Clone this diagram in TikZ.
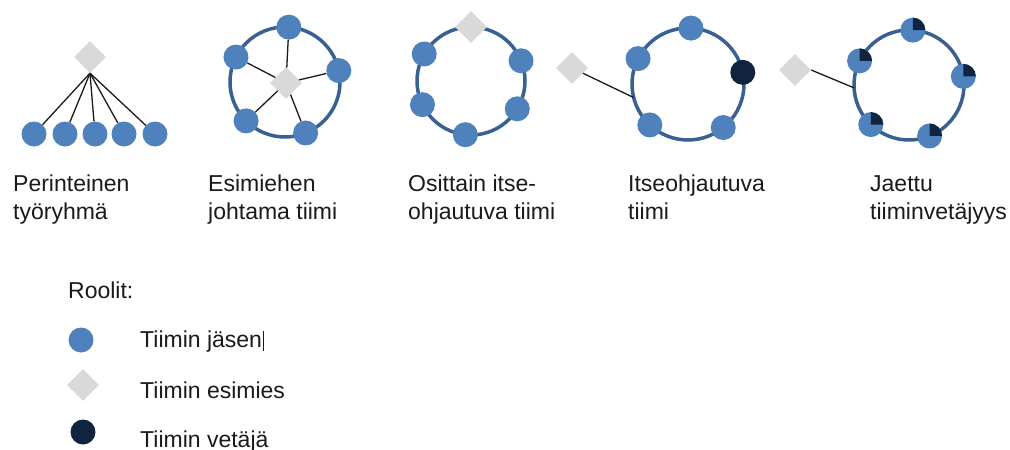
\documentclass[tikz,border=0pt]{standalone}
\usepackage{fontspec}
\setmainfont{Liberation Sans}
\usetikzlibrary{shapes.geometric,calc}
\definecolor{memberblue}{HTML}{4F81BD}
\definecolor{ringblue}{HTML}{3A6091}
\definecolor{leadnavy}{HTML}{10243F}
\definecolor{bossgray}{HTML}{D9D9D9}
\definecolor{ink}{HTML}{1A1A1A}
\begin{document}
\begin{tikzpicture}[x=1pt,y=-1pt,
  member/.style={circle,fill=memberblue,minimum size=25pt,inner sep=0pt},
  leader/.style={circle,fill=leadnavy,minimum size=25pt,inner sep=0pt},
  boss/.style={diamond,fill=bossgray,minimum size=32pt,inner sep=0pt},
  ringline/.style={draw=ringblue,line width=3.5pt},
  link/.style={draw=ink,line width=1.3pt},
  caption/.style={font=\fontsize{23}{28}\selectfont,text=ink,align=left,anchor=base west,inner sep=0pt},
  share/.style={fill=leadnavy},
  ]
\useasboundingbox (0,0) rectangle (1010,450);

% 1: traditional work group
\node[boss] (d1) at (90,57) {};
\foreach \x [count=\i] in {34,65,95,124,155}
  \node[member] (m1\i) at (\x,134) {};
\foreach \i in {1,...,5}
  \draw[link] (d1.south) -- (m1\i);

% 2: team led by a supervisor
\coordinate (c2) at (285,82);
\draw[ringline] (c2) circle[radius=55];
\foreach \a [count=\i] in {86,12,-68,-135,153}
  \node[member] (m2\i) at ($(c2)+(-\a:55)$) {};
\node[boss] (d2) at (286,83) {};
\foreach \i in {1,...,5}
  \draw[link] (d2) -- (m2\i);

% 3: partly self-directed team
\coordinate (c3) at (471,81);
\draw[ringline] (c3) circle[radius=54];
\node[boss] (d3) at ($(c3)+(-90:54)$) {};
\foreach \a [count=\i] in {150,22,-31,-96,206}
  \node[member] (m3\i) at ($(c3)+(-\a:54)$) {};

% 4: self-directed team
\coordinate (c4) at (688,84);
\draw[ringline] (c4) circle[radius=56];
\foreach \a [count=\i] in {87,153,-133,-51}
  \node[member] (m4\i) at ($(c4)+(-\a:56)$) {};
\node[leader] (l4) at ($(c4)+(-12:56)$) {};
\node[boss] (d4) at (572,68) {};
\coordinate (r4) at ($(c4)+(-194:56)$);
\draw[link] (d4) -- (r4);

% 5: shared team leadership
\coordinate (c5) at (909,85);
\draw[ringline] (c5) circle[radius=55];
\foreach \a [count=\i] in {86,154,9,-134,-68}
  \node[member] (m5\i) at ($(c5)+(-\a:55)$) {};
\foreach \i in {1,...,5}
  \fill[share] (m5\i.center) -- ++(-90:12.5)
    arc[start angle=-90,end angle=0,radius=12.5] -- cycle;
\node[boss] (d5) at (795,70) {};
\coordinate (r5) at ($(c5)+(-183:55)$);
\draw[link] (d5.east) -- (r5);

% captions (anchored at the baseline of their second line)
\node[caption] (t1) at (13,219) {Perinteinen\\työryhmä};
\node[caption] (t2) at (208,219) {Esimiehen\\johtama tiimi};
\node[caption] (t3) at (408,219) {Osittain itse-\\ohjautuva tiimi};
\node[caption] (t4) at (628,219) {Itseohjautuva\\tiimi};
\node[caption] (t5) at (870,219) {Jaettu\\tiiminvetäjyys};

% legend
\node[caption] (roles) at (68,298) {Roolit:};
\node[member] (lm) at (81,340) {};
\node[caption] (lmt) at (140,347) {Tiimin jäsen};
\draw[ink,line width=0.9pt] ($(lmt.base east)+(0.8,4)$) -- ++(0,-20);
\node[boss] (lb) at (83,385) {};
\node[caption] (lbt) at (140,398) {Tiimin esimies};
\node[leader] (ll) at (83,432) {};
\node[caption] (llt) at (140,447) {Tiimin vetäjä};
\end{tikzpicture}
\end{document}
